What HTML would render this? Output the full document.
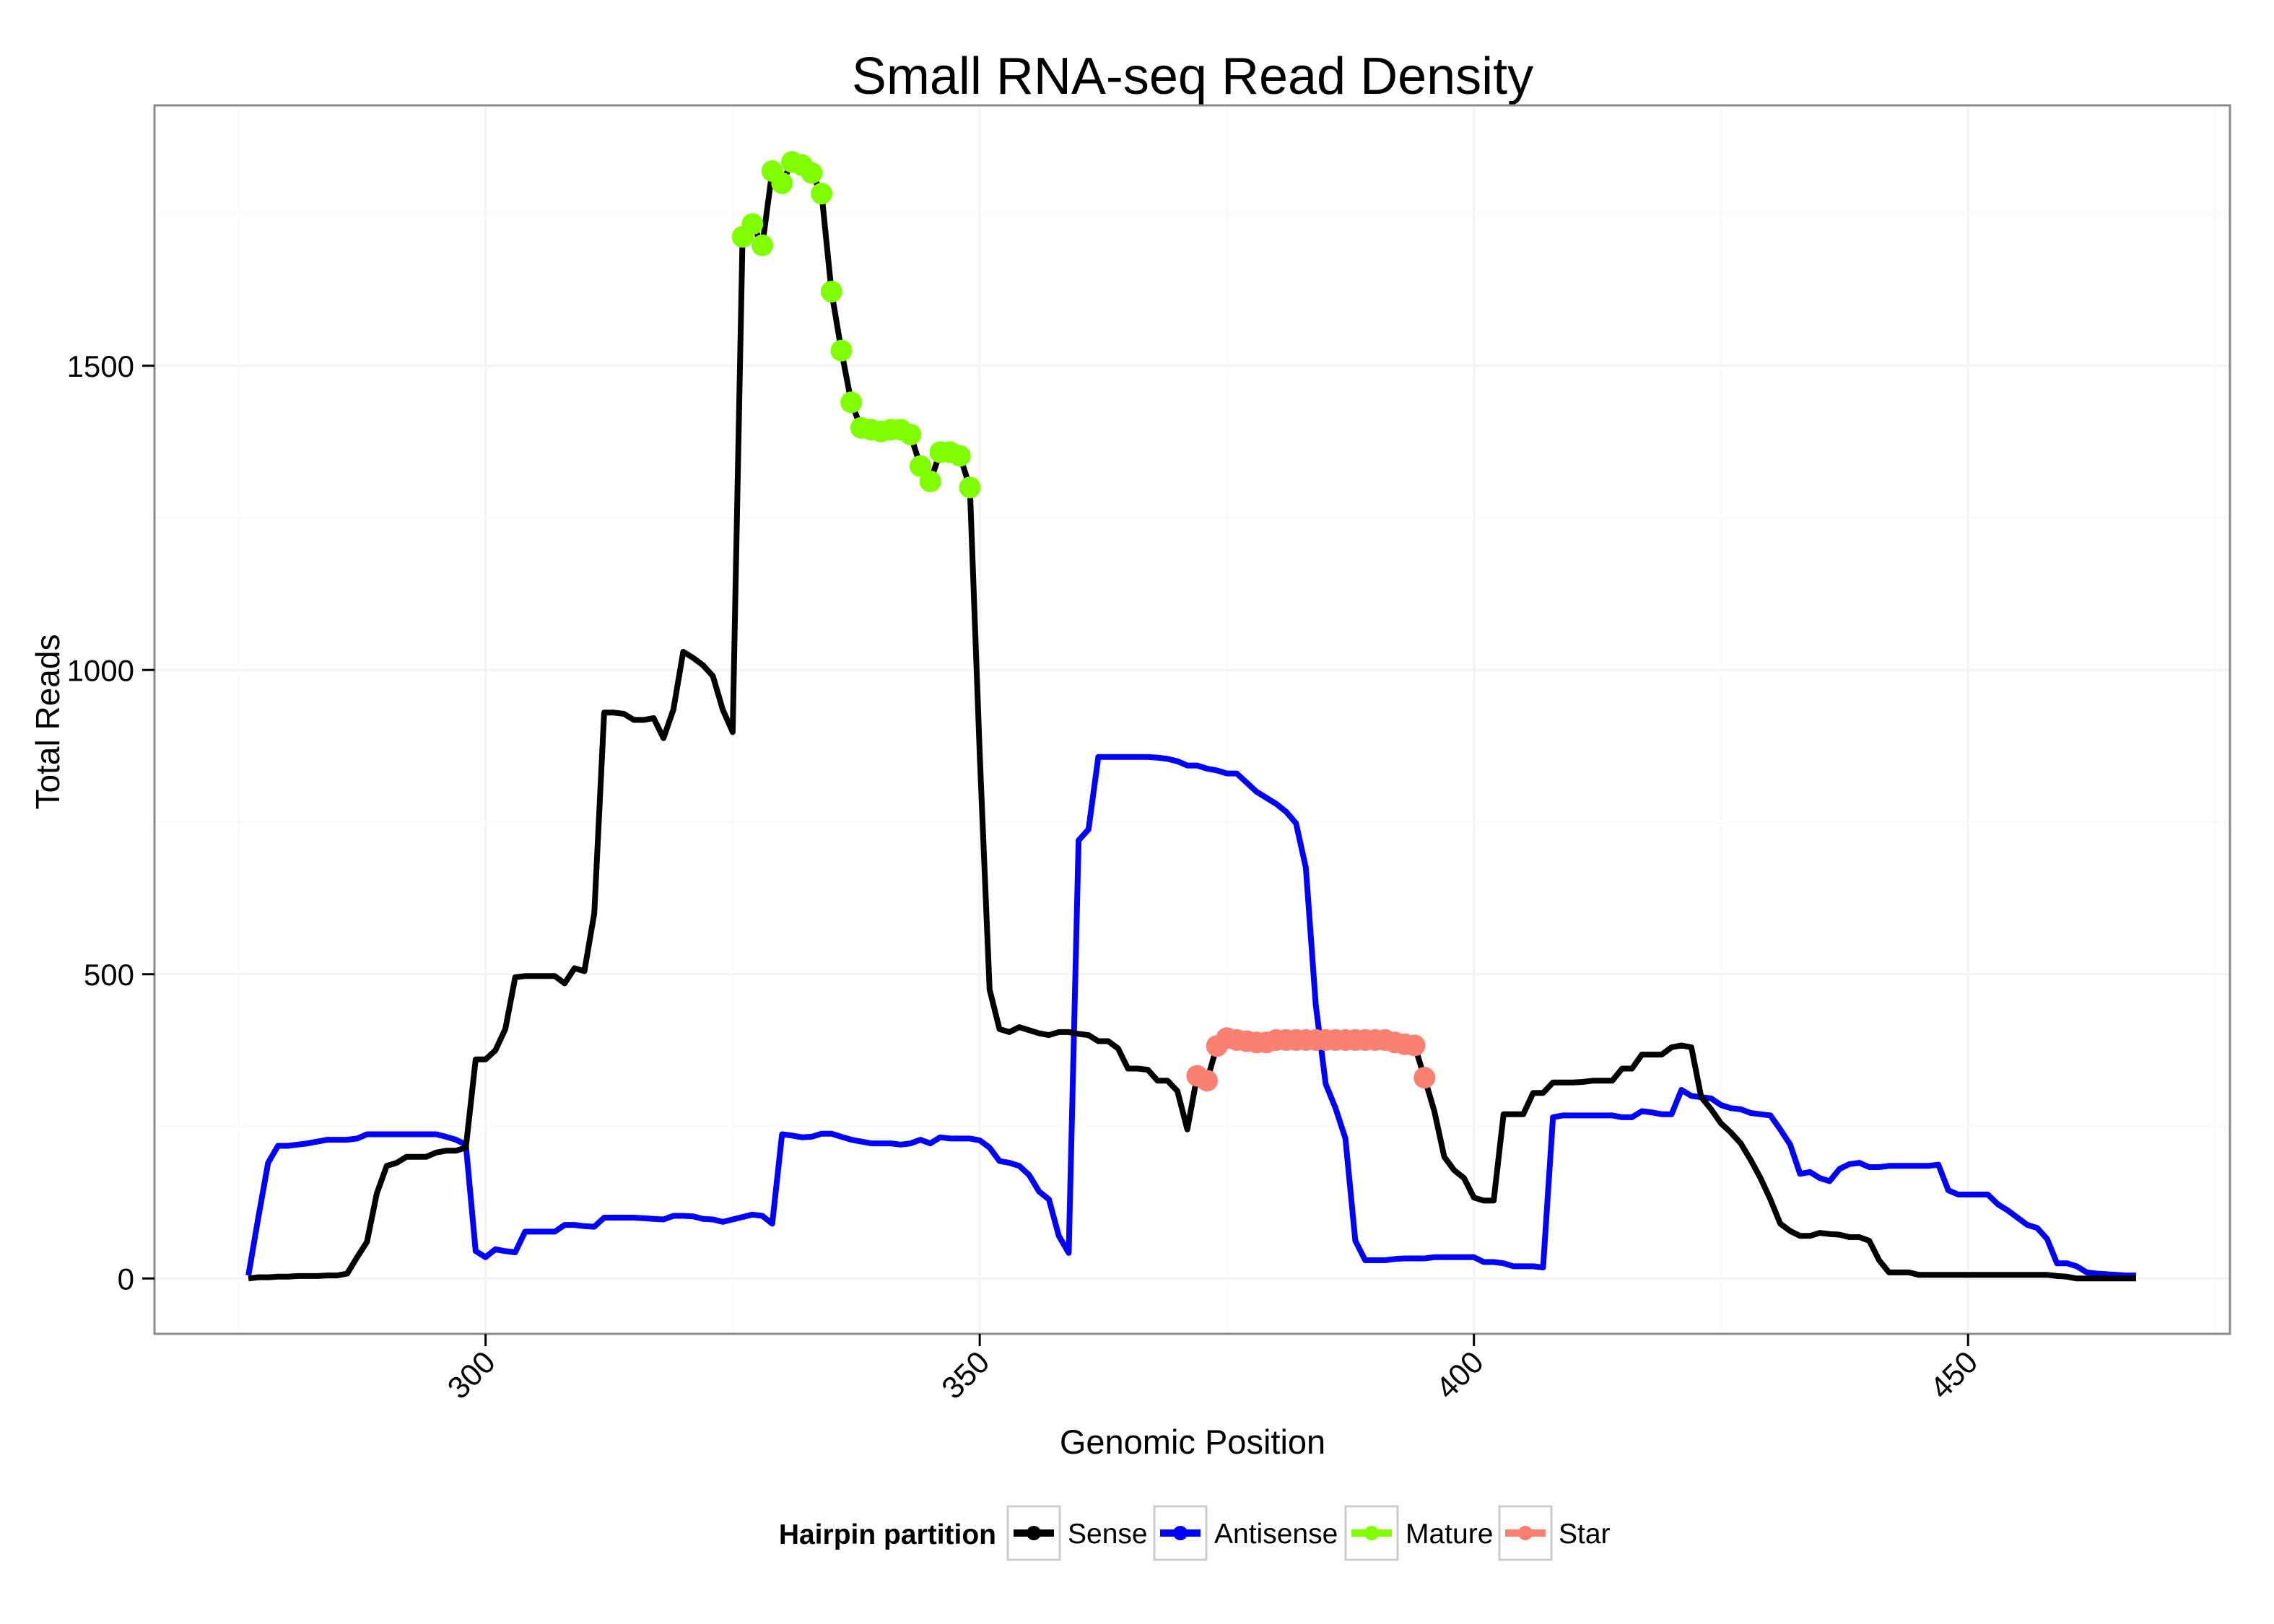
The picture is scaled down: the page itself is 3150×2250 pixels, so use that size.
<!DOCTYPE html>
<html><head><meta charset="utf-8"><style>
html,body{margin:0;padding:0;background:#fff;}
svg{display:block;font-family:"Liberation Sans",Arial,sans-serif;}
</style></head><body>
<svg id="chart" width="3150" height="2250" viewBox="0 0 3150 2250" xmlns="http://www.w3.org/2000/svg">
<rect x="0" y="0" width="3150" height="2250" fill="#fff"/>
<text x="1652" y="130" font-size="72" text-anchor="middle" fill="#000">Small RNA-seq Read Density</text>
<g id="grid"></g>
<g id="series"></g>
<rect x="214" y="146" width="2875" height="1702" fill="none" stroke="#8a8a8a" stroke-width="3"/>
<g id="axes"></g>
<text x="1652" y="2014" font-size="47" text-anchor="middle">Genomic Position</text>
<text transform="translate(82,1000) rotate(-90)" font-size="46" text-anchor="middle">Total Reads</text>
<g id="legend">
<text x="1380" y="2139" font-size="39" font-weight="bold" text-anchor="end">Hairpin partition</text>
</g>
</svg>
<script>
const positions = [];
for (let p = 276; p <= 467; p++) positions.push(p);
const senseValues = [0,2,2,3,3,4,4,4,5,5,8,35,60,140,185,190,200,200,200,207,210,210,215,360,360,375,410,495,497,497,497,497,485,510,505,600,930,930,928,918,918,921,888,935,1030,1020,1008,990,935,898,
1712,1733,1698,1820,1800,1835,1830,1817,1783,1622,1525,1440,1398,1395,1392,1395,1395,1387,1335,1310,1358,1358,1352,1300,
860,475,410,405,413,408,403,400,405,405,402,400,390,390,378,345,345,343,325,325,308,245,
333,325,382,395,392,390,388,388,392,392,392,392,392,392,392,392,392,392,392,392,388,385,383,330,
275,200,178,165,133,128,128,270,270,270,305,305,322,322,322,323,325,325,325,345,345,368,368,368,380,383,380,298,278,255,240,222,195,165,130,90,78,70,70,75,73,72,68,68,62,30,10,10,10,6,6,6,6,6,6,6,6,6,6,6,6,6,6,4,3,0,0,0,0,0,0,0];
const antisenseValues = [5,100,190,218,218,220,222,225,228,228,228,230,237,237,237,237,237,237,237,237,233,228,220,45,35,48,45,43,77,77,77,77,88,88,86,85,100,100,100,100,99,98,97,103,103,102,98,97,93,97,101,105,103,90,237,235,232,233,238,238,233,228,225,222,222,222,220,222,228,222,232,230,230,230,227,215,193,190,185,170,143,130,70,42,720,738,857,857,857,857,857,857,856,854,850,843,843,838,835,830,830,815,800,790,780,767,748,675,450,320,280,230,62,30,30,30,32,33,33,33,35,35,35,35,35,27,27,25,20,20,20,18,265,268,268,268,268,268,268,265,265,275,273,270,270,310,300,298,296,285,280,278,272,270,268,245,220,172,175,165,160,180,188,190,183,183,185,185,185,185,185,187,145,138,138,138,138,122,112,100,88,83,65,25,25,20,10,8,7,6,5,5];
const matureStart = 326, matureEnd = 349;
const starStart = 372, starEnd = 395;
const xTicks = [300,350,400,450];
const yTicks = [0,500,1000,1500];
const legendLabels = ["Sense","Antisense","Mature","Star"];
const legendColors = ["#000000","#0000ff","#7fff00","#fa8072"];

const NS = "http://www.w3.org/2000/svg";
const X0 = 214, X1 = 3089, Y0 = 146, Y1 = 1848;
const xMin = 266.5, xMax = 476.5, yMin = -91, yMax = 1928;
function xs(v){ return X0 + (v - xMin) / (xMax - xMin) * (X1 - X0); }
function ys(v){ return Y1 - (v - yMin) / (yMax - yMin) * (Y1 - Y0); }
function mk(tag, attrs, parent){ const e = document.createElementNS(NS, tag); for (const k in attrs) e.setAttribute(k, attrs[k]); parent.appendChild(e); return e; }

const grid = document.getElementById('grid');
for (let v = 275; v <= 475; v += 25) {
  const g = mk('line', {x1: xs(v), x2: xs(v), y1: Y0, y2: Y1, stroke: v % 50 === 0 ? '#f4f4f4' : '#f9f9f9', 'stroke-width': v % 50 === 0 ? 3 : 2}, grid);
  
  
}
for (let v = 0; v <= 1750; v += 250) {
  const g = mk('line', {x1: X0, x2: X1, y1: ys(v), y2: ys(v), stroke: v % 500 === 0 ? '#f4f4f4' : '#f9f9f9', 'stroke-width': v % 500 === 0 ? 3 : 2}, grid);
  
  
}

const series = document.getElementById('series');
function linePts(vals){ return vals.map((v, i) => xs(positions[i]).toFixed(1) + ',' + ys(v).toFixed(1)).join(' '); }
const aLine = mk('polyline', {points: linePts(antisenseValues), fill: 'none', stroke: '#0000ff', 'stroke-width': 8, 'stroke-linejoin': 'round'}, series);


const sLine = mk('polyline', {points: linePts(senseValues), fill: 'none', stroke: '#000000', 'stroke-width': 8, 'stroke-linejoin': 'round'}, series);


positions.forEach((p, i) => {
  let col = null, nm = null;
  if (p >= matureStart && p <= matureEnd) { col = '#7fff00'; nm = 'mature-point'; }
  if (p >= starStart && p <= starEnd) { col = '#fa8072'; nm = 'star-point'; }
  if (col) {
    const c = mk('circle', {cx: xs(p), cy: ys(senseValues[i]), r: 15, fill: col}, series);
    
    
  }
});

const axes = document.getElementById('axes');
xTicks.forEach(v => {
  const t = mk('line', {x1: xs(v), x2: xs(v), y1: Y1, y2: Y1 + 17, stroke: '#000', 'stroke-width': 3}, axes);
  
  
  const l = mk('text', {transform: 'translate(' + (xs(v) + 16) + ',' + (Y1 + 42) + ') rotate(-45)', 'font-size': 43, 'text-anchor': 'end'}, axes);
  l.textContent = v;
  
  
});
yTicks.forEach(v => {
  const t = mk('line', {x1: X0 - 17, x2: X0, y1: ys(v), y2: ys(v), stroke: '#000', 'stroke-width': 3}, axes);
  
  
  const l = mk('text', {x: X0 - 28, y: ys(v) + 15, 'font-size': 42, 'text-anchor': 'end'}, axes);
  l.textContent = v;
  
  
});

const legend = document.getElementById('legend');
const boxX = [1396, 1599, 1864, 2077];
const textX = [1479, 1682, 1947, 2159];
legendLabels.forEach((lab, i) => {
  const g = mk('g', {}, legend);
  
  
  mk('rect', {x: boxX[i], y: 2087, width: 72, height: 74, fill: '#fff', stroke: '#cccccc', 'stroke-width': 3}, g);
  mk('line', {x1: boxX[i] + 8, x2: boxX[i] + 64, y1: 2124, y2: 2124, stroke: legendColors[i], 'stroke-width': 10}, g);
  mk('circle', {cx: boxX[i] + 36, cy: 2124, r: 10, fill: legendColors[i]}, g);
  const t = mk('text', {x: textX[i], y: 2138, 'font-size': 39}, g);
  t.textContent = lab;
});
</script>
</body></html>
